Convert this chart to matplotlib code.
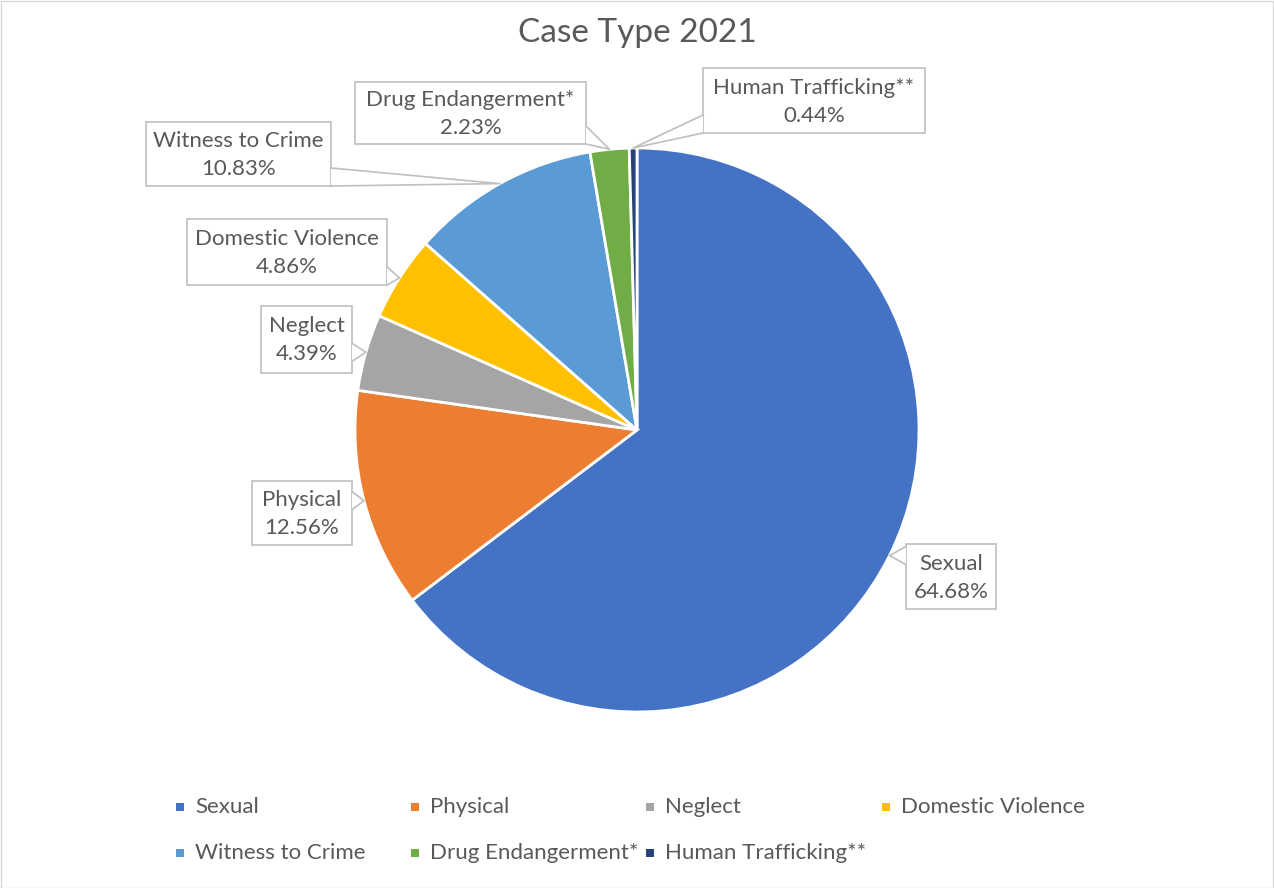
import matplotlib
matplotlib.use("Agg")
import matplotlib.pyplot as plt
import numpy as np
from matplotlib.patches import Rectangle, Polygon
from matplotlib.lines import Line2D

# data
categories = ["Sexual", "Physical", "Neglect", "Domestic Violence",
              "Witness to Crime", "Drug Endangerment*", "Human Trafficking**"]
shares = [64.68, 12.56, 4.39, 4.86, 10.83, 2.23, 0.44]
colors = ["#4472C4", "#ED7D31", "#A5A5A5", "#FFC000",
          "#5B9BD5", "#70AD47", "#264478"]
title = "Case Type 2021"

W, H = 1274, 888
TXT = "#595959"
EDGE = "#BFBFBF"
plt.rcParams["font.family"] = ["Lato", "DejaVu Sans"]

# label boxes in pixel coords (x0, y0, x1, y1), y from top
boxes = [(906, 544, 996, 609), (252, 481, 352, 545), (261, 306, 352, 373),
         (187, 219, 387, 285), (146, 122, 331, 186), (355, 82, 586, 144),
         (703, 68, 925, 133)]


def fx(x, y):
    return x / W, 1 - y / H


fig = plt.figure(figsize=(W / 100, H / 100), dpi=100)
cx, cy, r = 637, 430, 282
ax = fig.add_axes([(cx - r) / W, (H - cy - r) / H, 2 * r / W, 2 * r / H])
wedges, _ = ax.pie(shares, colors=colors, startangle=90, counterclock=False,
                   radius=1.0, wedgeprops=dict(edgecolor="white", linewidth=2))
ax.set_xlim(-1, 1)
ax.set_ylim(-1, 1)
ax.set_aspect("equal")
ax.axis("off")

fig.text(0.5, fx(0, 33)[1], title, ha="center", va="center",
         fontsize=24, color=TXT)

# callout labels
for w, name, val, (x0, y0, x1, y1) in zip(wedges, categories, shares, boxes):
    mid = np.deg2rad((w.theta1 + w.theta2) / 2)
    disp = ax.transData.transform((np.cos(mid), np.sin(mid)))
    tx, ty = disp[0], H - disp[1]
    hw = 9
    if tx > x1:
        c = min(max(ty, y0 + hw), y1 - hw)
        b1, b2 = (x1, c - hw), (x1, c + hw)
    elif tx < x0:
        c = min(max(ty, y0 + hw), y1 - hw)
        b1, b2 = (x0, c - hw), (x0, c + hw)
    elif ty > y1:
        c = min(max(tx, x0 + hw), x1 - hw)
        b1, b2 = (c - hw, y1), (c + hw, y1)
    else:
        c = min(max(tx, x0 + hw), x1 - hw)
        b1, b2 = (c - hw, y0), (c + hw, y0)
    box = Rectangle(fx(x0, y1), (x1 - x0) / W, (y1 - y0) / H,
                    transform=fig.transFigure, facecolor="white",
                    edgecolor=EDGE, lw=1.2, zorder=3)
    fig.patches.append(box)
    tri = Polygon([fx(*b1), fx(tx, ty), fx(*b2)], closed=True,
                  transform=fig.transFigure, facecolor="white",
                  edgecolor="none", zorder=4)
    fig.patches.append(tri)
    pts = [fx(*b1), fx(tx, ty), fx(*b2)]
    fig.lines.append(Line2D([p[0] for p in pts], [p[1] for p in pts],
                            transform=fig.transFigure, color=EDGE, lw=1.2,
                            zorder=5))
    fig.text(*fx((x0 + x1) / 2, (y0 + y1) / 2 + 1), f"{name}\n{val:.2f}%",
             ha="center", va="center", fontsize=16, color=TXT,
             linespacing=1.5, zorder=6)

# legend
col_x = [180, 415, 650, 886]
row_y = [807, 853]
for i, (name, col) in enumerate(zip(categories, colors)):
    lx, ly = col_x[i % 4], row_y[i // 4]
    sq = Rectangle(fx(lx - 4, ly + 4), 8 / W, 8 / H, transform=fig.transFigure,
                   facecolor=col, edgecolor="none")
    fig.patches.append(sq)
    fig.text(*fx(lx + 15, ly), name, ha="left", va="center",
             fontsize=16, color=TXT)

# outer border
fig.patches.append(Rectangle((0.5 / W, 0.5 / H), 1 - 1.5 / W, 1 - 1.5 / H,
                             transform=fig.transFigure, facecolor="none",
                             edgecolor="#D9D9D9", lw=1))

fig.savefig("out.png", dpi=100, facecolor="white")
